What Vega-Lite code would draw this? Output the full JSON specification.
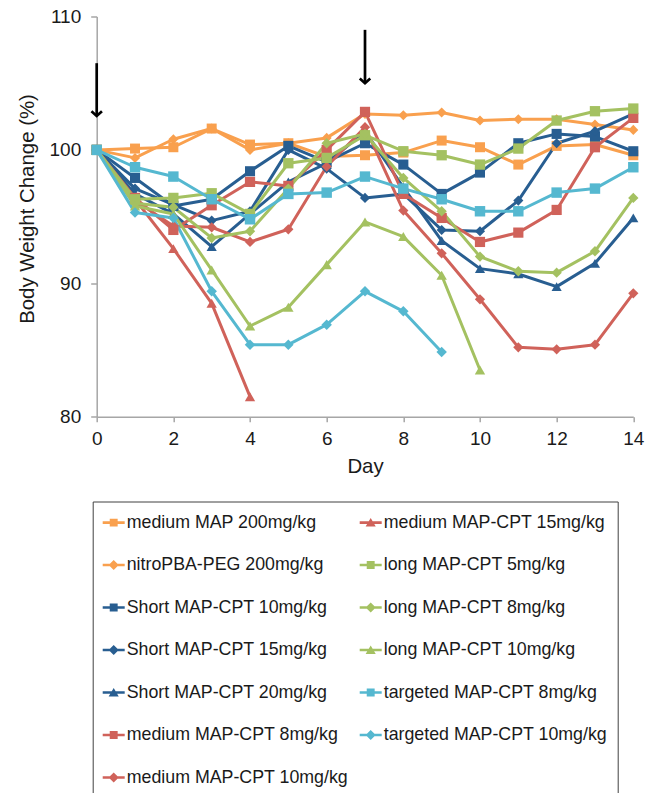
{
  "$schema": "https://vega.github.io/schema/vega-lite/v6.json",
  "autosize": "none",
  "width": 536.6,
  "height": 400.2,
  "padding": {"left": 96.7, "top": 16.5, "right": 14.7, "bottom": 376.3},
  "background": "white",
  "config": {
    "view": {"stroke": null},
    "font": "Liberation Sans",
    "axis": {
      "grid": false,
      "domainColor": "#A6A6A6",
      "domainWidth": 1.5,
      "tickColor": "#A6A6A6",
      "tickWidth": 1.5,
      "labelFont": "Liberation Sans",
      "labelFontSize": 19,
      "labelColor": "#1a1a1a",
      "titleFont": "Liberation Sans",
      "titleFontSize": 20.4,
      "titleFontWeight": "normal",
      "titleColor": "#1a1a1a",
      "labelFlush": false,
      "labelOverlap": false
    }
  },
  "datasets": {
    "weights": [
      {"series": "medium MAP 200mg/kg", "day": 0, "value": 100},
      {"series": "medium MAP 200mg/kg", "day": 1, "value": 100.1},
      {"series": "medium MAP 200mg/kg", "day": 2, "value": 100.2},
      {"series": "medium MAP 200mg/kg", "day": 3, "value": 101.6},
      {"series": "medium MAP 200mg/kg", "day": 4, "value": 100.4},
      {"series": "medium MAP 200mg/kg", "day": 5, "value": 100.5},
      {"series": "medium MAP 200mg/kg", "day": 6, "value": 99.5},
      {"series": "medium MAP 200mg/kg", "day": 7, "value": 99.6},
      {"series": "medium MAP 200mg/kg", "day": 8, "value": 99.8},
      {"series": "medium MAP 200mg/kg", "day": 9, "value": 100.7},
      {"series": "medium MAP 200mg/kg", "day": 10, "value": 100.2},
      {"series": "medium MAP 200mg/kg", "day": 11, "value": 98.9},
      {"series": "medium MAP 200mg/kg", "day": 12, "value": 100.3},
      {"series": "medium MAP 200mg/kg", "day": 13, "value": 100.4},
      {"series": "medium MAP 200mg/kg", "day": 14, "value": 99.6},

      {"series": "nitroPBA-PEG 200mg/kg", "day": 0, "value": 100},
      {"series": "nitroPBA-PEG 200mg/kg", "day": 1, "value": 99.4},
      {"series": "nitroPBA-PEG 200mg/kg", "day": 2, "value": 100.8},
      {"series": "nitroPBA-PEG 200mg/kg", "day": 3, "value": 101.6},
      {"series": "nitroPBA-PEG 200mg/kg", "day": 4, "value": 100.0},
      {"series": "nitroPBA-PEG 200mg/kg", "day": 5, "value": 100.5},
      {"series": "nitroPBA-PEG 200mg/kg", "day": 6, "value": 100.9},
      {"series": "nitroPBA-PEG 200mg/kg", "day": 7, "value": 102.7},
      {"series": "nitroPBA-PEG 200mg/kg", "day": 8, "value": 102.6},
      {"series": "nitroPBA-PEG 200mg/kg", "day": 9, "value": 102.8},
      {"series": "nitroPBA-PEG 200mg/kg", "day": 10, "value": 102.2},
      {"series": "nitroPBA-PEG 200mg/kg", "day": 11, "value": 102.3},
      {"series": "nitroPBA-PEG 200mg/kg", "day": 12, "value": 102.3},
      {"series": "nitroPBA-PEG 200mg/kg", "day": 13, "value": 101.9},
      {"series": "nitroPBA-PEG 200mg/kg", "day": 14, "value": 101.5},

      {"series": "Short MAP-CPT 10mg/kg", "day": 0, "value": 100},
      {"series": "Short MAP-CPT 10mg/kg", "day": 1, "value": 97.9},
      {"series": "Short MAP-CPT 10mg/kg", "day": 2, "value": 95.8},
      {"series": "Short MAP-CPT 10mg/kg", "day": 3, "value": 96.3},
      {"series": "Short MAP-CPT 10mg/kg", "day": 4, "value": 98.4},
      {"series": "Short MAP-CPT 10mg/kg", "day": 5, "value": 100.3},
      {"series": "Short MAP-CPT 10mg/kg", "day": 6, "value": 99.1},
      {"series": "Short MAP-CPT 10mg/kg", "day": 7, "value": 100.5},
      {"series": "Short MAP-CPT 10mg/kg", "day": 8, "value": 98.9},
      {"series": "Short MAP-CPT 10mg/kg", "day": 9, "value": 96.7},
      {"series": "Short MAP-CPT 10mg/kg", "day": 10, "value": 98.3},
      {"series": "Short MAP-CPT 10mg/kg", "day": 11, "value": 100.5},
      {"series": "Short MAP-CPT 10mg/kg", "day": 12, "value": 101.2},
      {"series": "Short MAP-CPT 10mg/kg", "day": 13, "value": 101.0},
      {"series": "Short MAP-CPT 10mg/kg", "day": 14, "value": 99.9},

      {"series": "Short MAP-CPT 15mg/kg", "day": 0, "value": 100},
      {"series": "Short MAP-CPT 15mg/kg", "day": 1, "value": 97.1},
      {"series": "Short MAP-CPT 15mg/kg", "day": 2, "value": 95.9},
      {"series": "Short MAP-CPT 15mg/kg", "day": 3, "value": 94.7},
      {"series": "Short MAP-CPT 15mg/kg", "day": 4, "value": 95.4},
      {"series": "Short MAP-CPT 15mg/kg", "day": 5, "value": 100.0},
      {"series": "Short MAP-CPT 15mg/kg", "day": 6, "value": 98.6},
      {"series": "Short MAP-CPT 15mg/kg", "day": 7, "value": 96.4},
      {"series": "Short MAP-CPT 15mg/kg", "day": 8, "value": 96.7},
      {"series": "Short MAP-CPT 15mg/kg", "day": 9, "value": 94.0},
      {"series": "Short MAP-CPT 15mg/kg", "day": 10, "value": 93.9},
      {"series": "Short MAP-CPT 15mg/kg", "day": 11, "value": 96.2},
      {"series": "Short MAP-CPT 15mg/kg", "day": 12, "value": 100.5},
      {"series": "Short MAP-CPT 15mg/kg", "day": 13, "value": 101.4},
      {"series": "Short MAP-CPT 15mg/kg", "day": 14, "value": 102.7},

      {"series": "Short MAP-CPT 20mg/kg", "day": 0, "value": 100},
      {"series": "Short MAP-CPT 20mg/kg", "day": 1, "value": 96.7},
      {"series": "Short MAP-CPT 20mg/kg", "day": 2, "value": 95.2},
      {"series": "Short MAP-CPT 20mg/kg", "day": 3, "value": 92.75},
      {"series": "Short MAP-CPT 20mg/kg", "day": 4, "value": 95.2},
      {"series": "Short MAP-CPT 20mg/kg", "day": 5, "value": 97.6},
      {"series": "Short MAP-CPT 20mg/kg", "day": 6, "value": 99.0},
      {"series": "Short MAP-CPT 20mg/kg", "day": 7, "value": 101.4},
      {"series": "Short MAP-CPT 20mg/kg", "day": 8, "value": 97.2},
      {"series": "Short MAP-CPT 20mg/kg", "day": 9, "value": 93.2},
      {"series": "Short MAP-CPT 20mg/kg", "day": 10, "value": 91.1},
      {"series": "Short MAP-CPT 20mg/kg", "day": 11, "value": 90.7},
      {"series": "Short MAP-CPT 20mg/kg", "day": 12, "value": 89.75},
      {"series": "Short MAP-CPT 20mg/kg", "day": 13, "value": 91.5},
      {"series": "Short MAP-CPT 20mg/kg", "day": 14, "value": 94.9},

      {"series": "medium MAP-CPT 8mg/kg", "day": 0, "value": 100},
      {"series": "medium MAP-CPT 8mg/kg", "day": 1, "value": 96.4},
      {"series": "medium MAP-CPT 8mg/kg", "day": 2, "value": 94.0},
      {"series": "medium MAP-CPT 8mg/kg", "day": 3, "value": 95.85},
      {"series": "medium MAP-CPT 8mg/kg", "day": 4, "value": 97.6},
      {"series": "medium MAP-CPT 8mg/kg", "day": 5, "value": 97.3},
      {"series": "medium MAP-CPT 8mg/kg", "day": 6, "value": 100.0},
      {"series": "medium MAP-CPT 8mg/kg", "day": 7, "value": 102.85},
      {"series": "medium MAP-CPT 8mg/kg", "day": 8, "value": 96.7},
      {"series": "medium MAP-CPT 8mg/kg", "day": 9, "value": 94.9},
      {"series": "medium MAP-CPT 8mg/kg", "day": 10, "value": 93.1},
      {"series": "medium MAP-CPT 8mg/kg", "day": 11, "value": 93.8},
      {"series": "medium MAP-CPT 8mg/kg", "day": 12, "value": 95.5},
      {"series": "medium MAP-CPT 8mg/kg", "day": 13, "value": 100.2},
      {"series": "medium MAP-CPT 8mg/kg", "day": 14, "value": 102.4},

      {"series": "medium MAP-CPT 10mg/kg", "day": 0, "value": 100},
      {"series": "medium MAP-CPT 10mg/kg", "day": 1, "value": 96.2},
      {"series": "medium MAP-CPT 10mg/kg", "day": 2, "value": 94.3},
      {"series": "medium MAP-CPT 10mg/kg", "day": 3, "value": 94.2},
      {"series": "medium MAP-CPT 10mg/kg", "day": 4, "value": 93.1},
      {"series": "medium MAP-CPT 10mg/kg", "day": 5, "value": 94.05},
      {"series": "medium MAP-CPT 10mg/kg", "day": 6, "value": 98.75},
      {"series": "medium MAP-CPT 10mg/kg", "day": 7, "value": 101.7},
      {"series": "medium MAP-CPT 10mg/kg", "day": 8, "value": 95.45},
      {"series": "medium MAP-CPT 10mg/kg", "day": 9, "value": 92.25},
      {"series": "medium MAP-CPT 10mg/kg", "day": 10, "value": 88.8},
      {"series": "medium MAP-CPT 10mg/kg", "day": 11, "value": 85.2},
      {"series": "medium MAP-CPT 10mg/kg", "day": 12, "value": 85.05},
      {"series": "medium MAP-CPT 10mg/kg", "day": 13, "value": 85.4},
      {"series": "medium MAP-CPT 10mg/kg", "day": 14, "value": 89.25},

      {"series": "medium MAP-CPT 15mg/kg", "day": 0, "value": 100},
      {"series": "medium MAP-CPT 15mg/kg", "day": 1, "value": 96.3},
      {"series": "medium MAP-CPT 15mg/kg", "day": 2, "value": 92.6},
      {"series": "medium MAP-CPT 15mg/kg", "day": 3, "value": 88.5},
      {"series": "medium MAP-CPT 15mg/kg", "day": 4, "value": 81.5},

      {"series": "long MAP-CPT 5mg/kg", "day": 0, "value": 100},
      {"series": "long MAP-CPT 5mg/kg", "day": 1, "value": 96.3},
      {"series": "long MAP-CPT 5mg/kg", "day": 2, "value": 96.4},
      {"series": "long MAP-CPT 5mg/kg", "day": 3, "value": 96.75},
      {"series": "long MAP-CPT 5mg/kg", "day": 4, "value": 95.2},
      {"series": "long MAP-CPT 5mg/kg", "day": 5, "value": 99.0},
      {"series": "long MAP-CPT 5mg/kg", "day": 6, "value": 99.4},
      {"series": "long MAP-CPT 5mg/kg", "day": 7, "value": 101.1},
      {"series": "long MAP-CPT 5mg/kg", "day": 8, "value": 99.9},
      {"series": "long MAP-CPT 5mg/kg", "day": 9, "value": 99.6},
      {"series": "long MAP-CPT 5mg/kg", "day": 10, "value": 98.9},
      {"series": "long MAP-CPT 5mg/kg", "day": 11, "value": 100.1},
      {"series": "long MAP-CPT 5mg/kg", "day": 12, "value": 102.2},
      {"series": "long MAP-CPT 5mg/kg", "day": 13, "value": 102.9},
      {"series": "long MAP-CPT 5mg/kg", "day": 14, "value": 103.1},

      {"series": "long MAP-CPT 8mg/kg", "day": 0, "value": 100},
      {"series": "long MAP-CPT 8mg/kg", "day": 1, "value": 96.0},
      {"series": "long MAP-CPT 8mg/kg", "day": 2, "value": 95.7},
      {"series": "long MAP-CPT 8mg/kg", "day": 3, "value": 93.4},
      {"series": "long MAP-CPT 8mg/kg", "day": 4, "value": 93.9},
      {"series": "long MAP-CPT 8mg/kg", "day": 5, "value": 97.1},
      {"series": "long MAP-CPT 8mg/kg", "day": 6, "value": 100.5},
      {"series": "long MAP-CPT 8mg/kg", "day": 7, "value": 101.2},
      {"series": "long MAP-CPT 8mg/kg", "day": 8, "value": 97.9},
      {"series": "long MAP-CPT 8mg/kg", "day": 9, "value": 95.4},
      {"series": "long MAP-CPT 8mg/kg", "day": 10, "value": 92.0},
      {"series": "long MAP-CPT 8mg/kg", "day": 11, "value": 90.9},
      {"series": "long MAP-CPT 8mg/kg", "day": 12, "value": 90.8},
      {"series": "long MAP-CPT 8mg/kg", "day": 13, "value": 92.4},
      {"series": "long MAP-CPT 8mg/kg", "day": 14, "value": 96.4},

      {"series": "long MAP-CPT 10mg/kg", "day": 0, "value": 100},
      {"series": "long MAP-CPT 10mg/kg", "day": 1, "value": 95.8},
      {"series": "long MAP-CPT 10mg/kg", "day": 2, "value": 95.2},
      {"series": "long MAP-CPT 10mg/kg", "day": 3, "value": 91.0},
      {"series": "long MAP-CPT 10mg/kg", "day": 4, "value": 86.8},
      {"series": "long MAP-CPT 10mg/kg", "day": 5, "value": 88.2},
      {"series": "long MAP-CPT 10mg/kg", "day": 6, "value": 91.4},
      {"series": "long MAP-CPT 10mg/kg", "day": 7, "value": 94.6},
      {"series": "long MAP-CPT 10mg/kg", "day": 8, "value": 93.5},
      {"series": "long MAP-CPT 10mg/kg", "day": 9, "value": 90.6},
      {"series": "long MAP-CPT 10mg/kg", "day": 10, "value": 83.5},

      {"series": "targeted MAP-CPT 8mg/kg", "day": 0, "value": 100},
      {"series": "targeted MAP-CPT 8mg/kg", "day": 1, "value": 98.7},
      {"series": "targeted MAP-CPT 8mg/kg", "day": 2, "value": 98.0},
      {"series": "targeted MAP-CPT 8mg/kg", "day": 3, "value": 96.3},
      {"series": "targeted MAP-CPT 8mg/kg", "day": 4, "value": 94.8},
      {"series": "targeted MAP-CPT 8mg/kg", "day": 5, "value": 96.7},
      {"series": "targeted MAP-CPT 8mg/kg", "day": 6, "value": 96.8},
      {"series": "targeted MAP-CPT 8mg/kg", "day": 7, "value": 98.0},
      {"series": "targeted MAP-CPT 8mg/kg", "day": 8, "value": 97.1},
      {"series": "targeted MAP-CPT 8mg/kg", "day": 9, "value": 96.3},
      {"series": "targeted MAP-CPT 8mg/kg", "day": 10, "value": 95.4},
      {"series": "targeted MAP-CPT 8mg/kg", "day": 11, "value": 95.4},
      {"series": "targeted MAP-CPT 8mg/kg", "day": 12, "value": 96.8},
      {"series": "targeted MAP-CPT 8mg/kg", "day": 13, "value": 97.1},
      {"series": "targeted MAP-CPT 8mg/kg", "day": 14, "value": 98.7},

      {"series": "targeted MAP-CPT 10mg/kg", "day": 0, "value": 100},
      {"series": "targeted MAP-CPT 10mg/kg", "day": 1, "value": 95.3},
      {"series": "targeted MAP-CPT 10mg/kg", "day": 2, "value": 94.9},
      {"series": "targeted MAP-CPT 10mg/kg", "day": 3, "value": 89.4},
      {"series": "targeted MAP-CPT 10mg/kg", "day": 4, "value": 85.4},
      {"series": "targeted MAP-CPT 10mg/kg", "day": 5, "value": 85.4},
      {"series": "targeted MAP-CPT 10mg/kg", "day": 6, "value": 86.9},
      {"series": "targeted MAP-CPT 10mg/kg", "day": 7, "value": 89.4},
      {"series": "targeted MAP-CPT 10mg/kg", "day": 8, "value": 87.9},
      {"series": "targeted MAP-CPT 10mg/kg", "day": 9, "value": 84.85}
    ],
    "doses": [
      {"day": 0, "from": 106.5, "to": 102.55},
      {"day": 7, "from": 109.0, "to": 105.0}
    ]
  },
  "layer": [
    {
      "data": {"name": "weights"},
      "mark": {"type": "line", "strokeWidth": 3, "strokeJoin": "round"},
      "encoding": {
        "x": {
          "field": "day", "type": "quantitative",
          "scale": {"domain": [0, 14], "nice": false, "zero": false},
          "axis": {"values": [0, 2, 4, 6, 8, 10, 12, 14], "title": "Day", "tickSize": 5, "labelPadding": 8, "titlePadding": 8}
        },
        "y": {
          "field": "value", "type": "quantitative",
          "scale": {"domain": [80, 110], "nice": false, "zero": false},
          "axis": {"values": [80, 90, 100, 110], "title": "Body Weight Change (%)", "tickSize": 6, "labelPadding": 10, "titlePadding": 11, "titleY": 192}
        },
        "color": {
          "field": "series", "type": "nominal",
          "scale": {
            "domain": [
              "medium MAP 200mg/kg", "nitroPBA-PEG 200mg/kg",
              "Short MAP-CPT 10mg/kg", "Short MAP-CPT 15mg/kg", "Short MAP-CPT 20mg/kg",
              "medium MAP-CPT 8mg/kg", "medium MAP-CPT 10mg/kg", "medium MAP-CPT 15mg/kg",
              "long MAP-CPT 5mg/kg", "long MAP-CPT 8mg/kg", "long MAP-CPT 10mg/kg",
              "targeted MAP-CPT 8mg/kg", "targeted MAP-CPT 10mg/kg"
            ],
            "range": [
              "#F9A04E", "#F9A04E",
              "#285E91", "#285E91", "#285E91",
              "#D0625A", "#D0625A", "#D0625A",
              "#A4C161", "#A4C161", "#A4C161",
              "#55B8D0", "#55B8D0"
            ]
          },
          "legend": {
            "orient": "none",
            "legendX": -4,
            "legendY": 485,
            "columns": 2,
            "title": null,
            "symbolSize": 484,
            "labelFont": "Liberation Sans",
            "labelFontSize": 17.8,
            "labelColor": "#1a1a1a",
            "labelOffset": 2,
            "labelLimit": 400,
            "rowPadding": 22.5,
            "columnPadding": 11,
            "padding": 10,
            "strokeColor": "#404040",
            "encode": {
              "symbols": {
                "update": {
                  "shape": {"signal": "indexof(['Short MAP-CPT 20mg/kg','medium MAP-CPT 15mg/kg','long MAP-CPT 10mg/kg'], datum.value) >= 0 ? 'M-1,-0.12H1V0.12H-1Z M0,-0.42L0.46,0.36L-0.46,0.36Z' : (indexof(['nitroPBA-PEG 200mg/kg','Short MAP-CPT 15mg/kg','medium MAP-CPT 10mg/kg','long MAP-CPT 8mg/kg','targeted MAP-CPT 10mg/kg'], datum.value) >= 0 ? 'M-1,-0.12H1V0.12H-1Z M0,-0.46L0.46,0L0,0.46L-0.46,0Z' : 'M-1,-0.12H1V0.12H-1Z M-0.36,-0.36H0.36V0.36H-0.36Z')"},
                  "size": {"value": 484},
                  "fill": {"scale": "color", "field": "value"},
                  "stroke": {"value": "transparent"},
                  "strokeWidth": {"value": 0},
                  "opacity": {"value": 1}
                }
              }
            }
          }
        },
        "detail": {"field": "series"}
      }
    },
    {
      "data": {"name": "weights"},
      "mark": {"type": "point", "filled": true, "opacity": 1},
      "encoding": {
        "x": {"field": "day", "type": "quantitative"},
        "y": {"field": "value", "type": "quantitative"},
        "color": {"field": "series", "type": "nominal", "legend": null},
        "shape": {
          "field": "series", "type": "nominal", "legend": null,
          "scale": {
            "domain": [
              "targeted MAP-CPT 10mg/kg", "targeted MAP-CPT 8mg/kg",
              "long MAP-CPT 10mg/kg", "long MAP-CPT 8mg/kg", "long MAP-CPT 5mg/kg",
              "medium MAP-CPT 15mg/kg", "medium MAP-CPT 10mg/kg", "medium MAP-CPT 8mg/kg",
              "Short MAP-CPT 20mg/kg", "Short MAP-CPT 15mg/kg", "Short MAP-CPT 10mg/kg",
              "nitroPBA-PEG 200mg/kg", "medium MAP 200mg/kg"
            ],
            "range": [
              "diamond", "square",
              "triangle-up", "diamond", "square",
              "triangle-up", "diamond", "square",
              "triangle-up", "diamond", "square",
              "diamond", "square"
            ]
          }
        },
        "size": {
          "field": "series", "type": "nominal", "legend": null,
          "scale": {
            "domain": [
              "targeted MAP-CPT 10mg/kg", "targeted MAP-CPT 8mg/kg",
              "long MAP-CPT 10mg/kg", "long MAP-CPT 8mg/kg", "long MAP-CPT 5mg/kg",
              "medium MAP-CPT 15mg/kg", "medium MAP-CPT 10mg/kg", "medium MAP-CPT 8mg/kg",
              "Short MAP-CPT 20mg/kg", "Short MAP-CPT 15mg/kg", "Short MAP-CPT 10mg/kg",
              "nitroPBA-PEG 200mg/kg", "medium MAP 200mg/kg"
            ],
            "range": [110, 100, 140, 110, 100, 140, 110, 100, 140, 110, 100, 110, 100]
          }
        }
      }
    },
    {
      "data": {"name": "doses"},
      "mark": {"type": "rule", "color": "black", "strokeWidth": 2.7},
      "encoding": {
        "x": {"field": "day", "type": "quantitative"},
        "y": {"field": "from", "type": "quantitative"},
        "y2": {"field": "to"}
      }
    },
    {
      "data": {"name": "doses"},
      "mark": {"type": "point", "shape": "M-1,-0.9L0,0L1,-0.9", "filled": false, "stroke": "black", "strokeWidth": 2.7, "size": 110, "opacity": 1, "strokeJoin": "miter"},
      "encoding": {
        "x": {"field": "day", "type": "quantitative"},
        "y": {"field": "to", "type": "quantitative"}
      }
    }
  ]
}
